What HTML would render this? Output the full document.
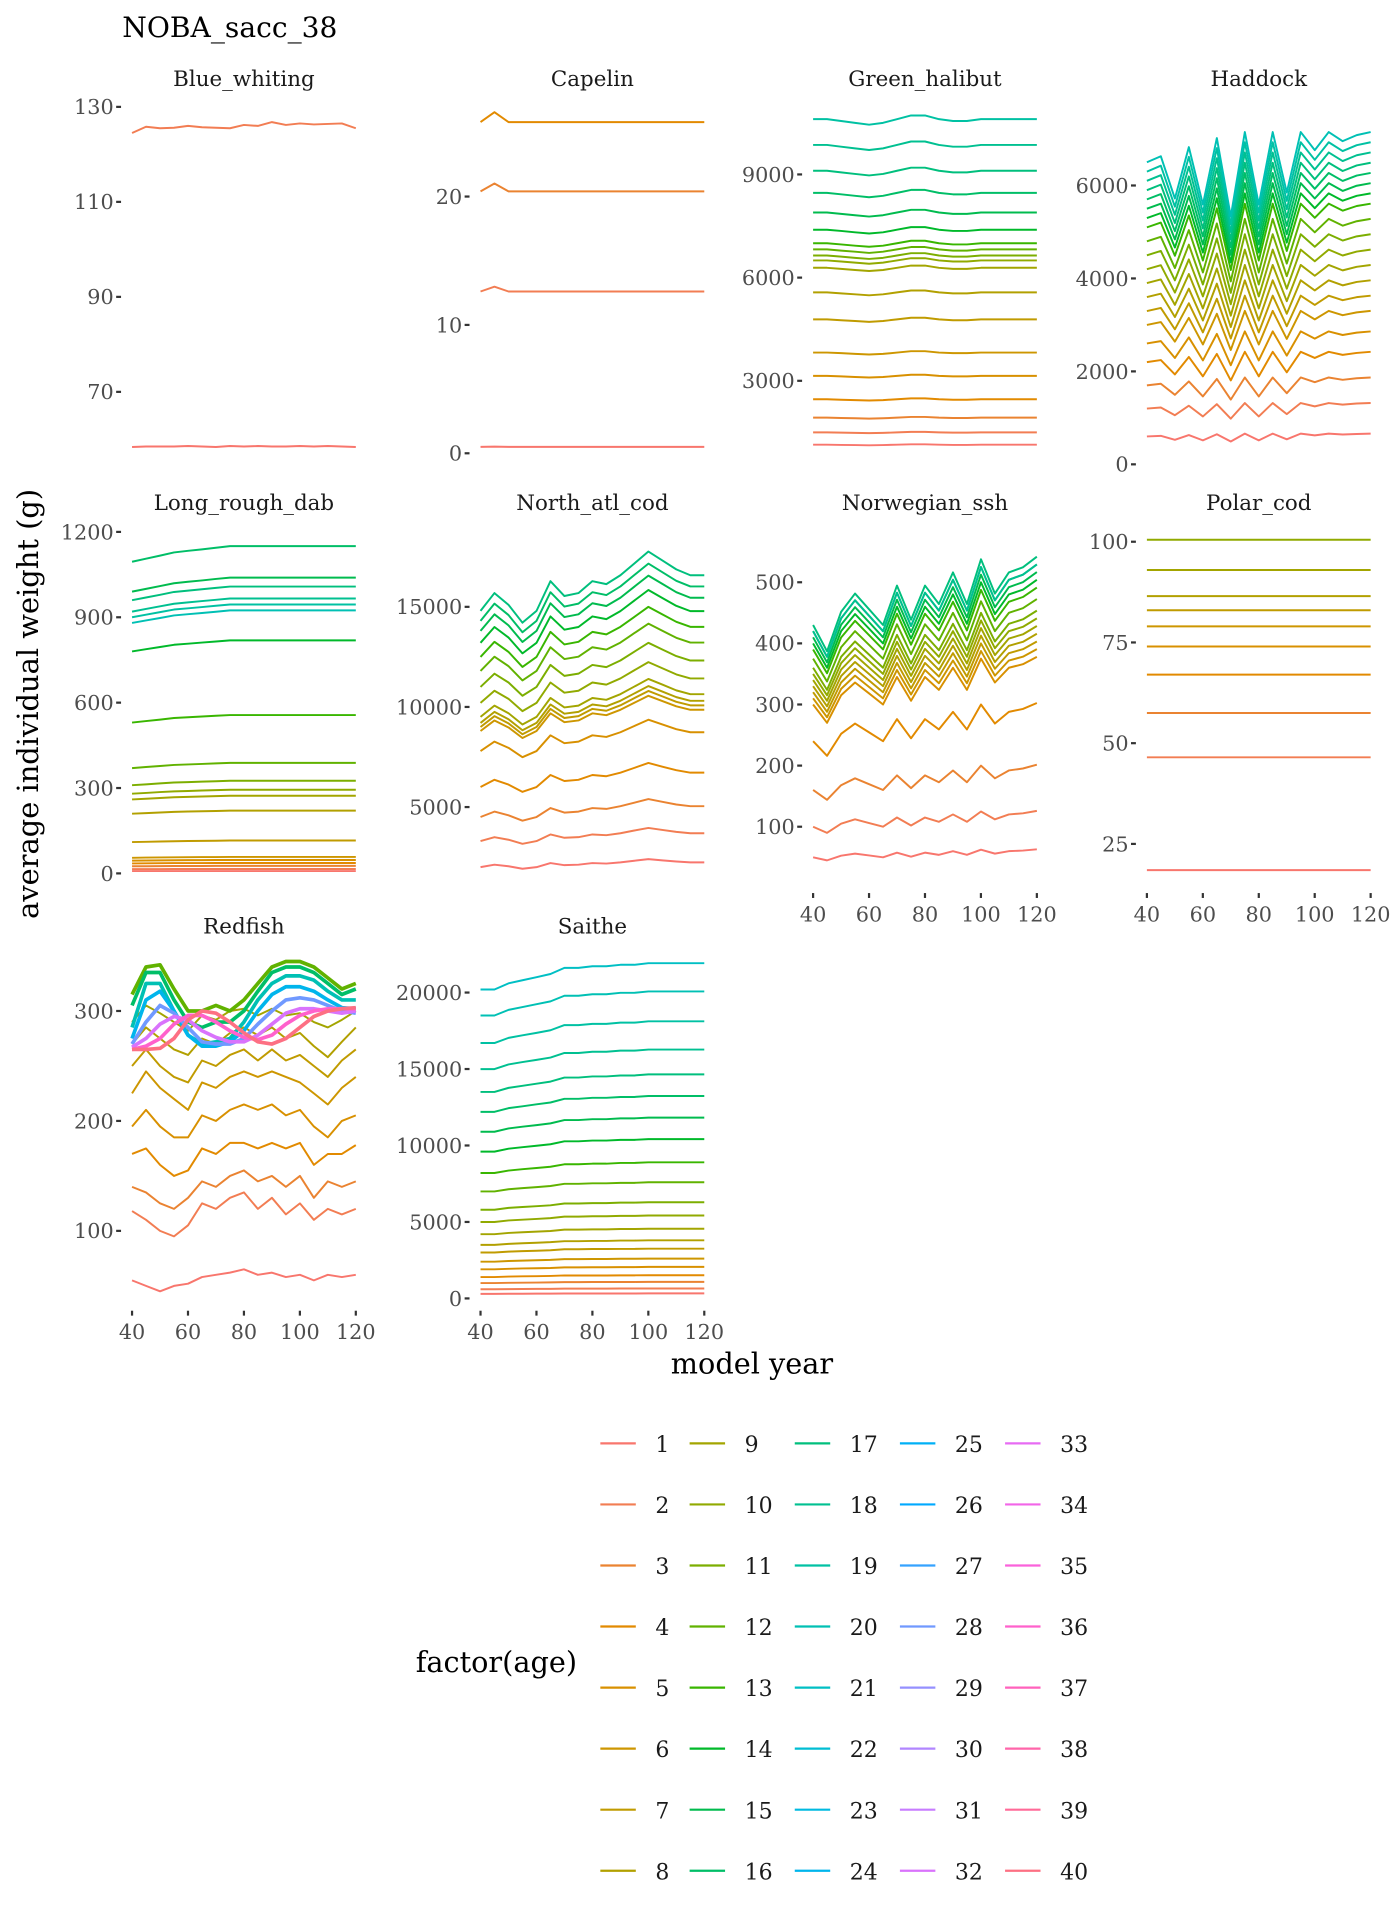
<!DOCTYPE html>
<html><head><meta charset="utf-8"><style>
html,body{margin:0;padding:0;background:#fff;}
svg{display:block;font-family:"DejaVu Serif","Liberation Serif",serif;}
</style></head><body>
<svg id="chart" width="1400" height="1920" viewBox="0 0 1145 1563" preserveAspectRatio="none" xmlns="http://www.w3.org/2000/svg">
<text x="100" y="30" font-size="23" fill="#000">NOBA_sacc_38</text>
<text transform="translate(31,573) rotate(-90)" text-anchor="middle" font-size="23.5" fill="#000">average individual weight (g)</text>
<text x="615" y="1118" text-anchor="middle" font-size="23.5" fill="#000">model year</text>
<text x="340" y="1361" font-size="23.5" fill="#000">factor(age)</text>
<g id="panels"></g>
<g id="legend"></g>
</svg>
<script>
const years=[40,45,50,55,60,65,70,75,80,85,90,95,100,105,110,115,120];
const xTicks=[40,60,80,100,120];

const bwAges=[1,2];
const bwSeries=[
[58.4,58.5,58.5,58.5,58.6,58.5,58.4,58.6,58.5,58.6,58.5,58.5,58.6,58.5,58.6,58.5,58.4],
[124.5,125.8,125.5,125.6,126,125.7,125.6,125.5,126.2,126,126.8,126.2,126.5,126.3,126.4,126.5,125.5]];
const bwTicks=[70,90,110,130];

const capAges=[1,2,3,4];
const capBase=[0.5,12.6,20.4,25.8];
const capProfile=[1,1.03,1,1,1,1,1,1,1,1,1,1,1,1,1,1,1];
const capTicks=[0,10,20];

const ghAges=[1,2,3,4,5,6,7,8,9,10,11,12,13,14,15,16,17,18,19];
const ghBase=[1143,1500,1929,2464,3143,3821,4786,5571,6286,6500,6643,6821,7000,7393,7893,8464,9107,9857,10607];
const ghProfile=[1,1,0.995,0.99,0.985,0.99,1.0,1.01,1.01,1.0,0.995,0.995,1.0,1.0,1.0,1.0,1.0];
const ghTicks=[3000,6000,9000];

const hadAges=[1,2,3,4,5,6,7,8,9,10,11,12,13,14,15,16,17,18,19,20];
const hadBase=[600,1200,1700,2200,2600,3000,3300,3600,3900,4200,4500,4800,5100,5300,5500,5700,5900,6100,6300,6500];
const hadProfile=[1,1.02,0.88,1.05,0.86,1.08,0.82,1.1,0.86,1.1,0.9,1.1,1.04,1.1,1.07,1.09,1.1];
const hadTicks=[0,2000,4000,6000];

const lrdAges=[1,2,3,4,5,6,7,8,9,10,11,12,13,14,15,16,17,18,19,20];
const lrdBase=[8,15,25,35,45,55,110,210,260,280,310,370,530,780,990,1095,960,920,900,880];
const lrdProfile=[1,1.01,1.02,1.03,1.035,1.04,1.045,1.05,1.05,1.05,1.05,1.05,1.05,1.05,1.05,1.05,1.05];
const lrdTicks=[0,300,600,900,1200];

const codAges=[1,2,3,4,5,6,7,8,9,10,11,12,13,14,15,16,17];
const codBase=[2000,3300,4500,6000,7800,8800,9000,9200,9500,10200,11000,11800,12500,13200,13800,14300,14800];
const codProfile=[1,1.06,1.02,0.96,1.0,1.1,1.05,1.06,1.1,1.09,1.12,1.16,1.2,1.17,1.14,1.12,1.12];
const codTicks=[5000,10000,15000];

const sshAges=[1,2,3,4,5,6,7,8,9,10,11,12,13,14,15,16,17,18];
const sshBase=[50,100,160,240,300,310,320,330,340,350,360,375,390,400,410,420,430,420];
const sshProfile=[1,0.9,1.05,1.12,1.06,1.0,1.15,1.02,1.15,1.08,1.2,1.08,1.25,1.12,1.2,1.22,1.26];
const sshTicks=[100,200,300,400,500];

const pcAges=[1,2,3,4,5,6,7,8,9,10];
const pcBase=[18.5,46.5,57.5,67,74,79,83,86.5,93,100.5];
const pcProfile=[1,1,1,1,1,1,1,1,1,1,1,1,1,1,1,1,1];
const pcTicks=[25,50,75,100];

const rfAges=[1,2,3,4,5,6,7,8,9,12,16,20,24,28,32,36,40];
const rfSeries=[
[55,50,45,50,52,58,60,62,65,60,62,58,60,55,60,58,60],
[118,110,100,95,105,125,120,130,135,120,130,115,125,110,120,115,120],
[140,135,125,120,130,145,140,150,155,145,150,140,150,130,145,140,145],
[170,175,160,150,155,175,170,180,180,175,180,175,180,160,170,170,178],
[195,210,195,185,185,205,200,210,215,210,215,205,210,195,185,200,205],
[225,245,230,220,210,235,230,240,245,240,245,240,235,225,215,230,240],
[250,265,250,240,235,255,250,260,265,255,265,255,260,250,240,255,265],
[270,285,275,265,260,275,270,280,285,278,285,275,280,268,258,272,285],
[290,305,298,290,282,296,292,300,302,296,302,296,298,290,285,292,300],
[315,340,342,320,300,300,305,300,310,325,340,345,345,340,330,320,325],
[305,335,335,310,290,285,290,290,300,318,335,340,340,335,325,315,320],
[285,325,325,300,278,270,272,275,290,310,325,332,332,328,318,310,310],
[275,310,318,300,278,268,268,272,282,300,315,322,322,318,310,303,302],
[270,290,305,298,285,272,270,270,275,288,300,310,312,310,305,300,298],
[267,275,288,295,292,282,276,272,272,278,288,298,302,302,300,298,300],
[265,268,275,288,296,296,290,282,276,274,278,288,296,300,302,302,302],
[265,265,266,275,292,300,298,290,280,272,270,275,285,295,300,302,303]];
const rfTicks=[100,200,300];

const saiAges=[1,2,3,4,5,6,7,8,9,10,11,12,13,14,15,16,17,18,19,20,21];
const saiBase=[300,600,1000,1400,1900,2400,3000,3500,4200,5000,5800,7000,8200,9600,10900,12200,13500,15000,16700,18500,20200];
const saiProfile=[1,1.0,1.02,1.03,1.04,1.05,1.07,1.07,1.075,1.075,1.08,1.08,1.085,1.085,1.085,1.085,1.085];
const saiTicks=[0,5000,10000,15000,20000];

const legendAges=Array.from({length:40},(_,i)=>i+1);

function hcl(h,c,l){
  const hr=h*Math.PI/180,U=c*Math.cos(hr),V=c*Math.sin(hr);
  const Xn=95.047,Yn=100,Zn=108.883,den=Xn+15*Yn+3*Zn,un=4*Xn/den,vn=9*Yn/den;
  const Y=l>8?Yn*Math.pow((l+16)/116,3):Yn*l/903.3;
  const u=U/(13*l)+un,v=V/(13*l)+vn;
  const X=9*Y*u/(4*v),Z=-X/3-5*Y+3*Y/v;
  const x=X/100,y=Y/100,z=Z/100;
  let r=3.2404542*x-1.5371385*y-0.4985314*z,g=-0.969266*x+1.8760108*y+0.041556*z,b=0.0556434*x-0.2040259*y+1.0572252*z;
  const gm=t=>{t=t<=0.0031308?12.92*t:1.055*Math.pow(t,1/2.4)-0.055;return Math.round(Math.max(0,Math.min(1,t))*255);};
  return `rgb(${gm(r)},${gm(g)},${gm(b)})`;
}
function ageColor(a){return hcl(15+(a-1)*360/40,100,65);}

const NS="http://www.w3.org/2000/svg";
function mk(tag,attrs,parent){const e=document.createElementNS(NS,tag);for(const k in attrs)e.setAttribute(k,attrs[k]);parent.appendChild(e);return e;}
const panelsG=document.getElementById('panels');

function fromProfile(base,prof){return base.map(b=>prof.map(p=>b*p));}

const panels=[
 {name:'Blue_whiting',x0:108,tv:[130,70],ty:[87,319],ticks:bwTicks,ages:bwAges,series:bwSeries,strip:64,xaxis:false,bottom:378},
 {name:'Capelin',x0:393,tv:[20,0],ty:[160,369],ticks:capTicks,ages:capAges,series:fromProfile(capBase,capProfile),strip:64,xaxis:false,bottom:378},
 {name:'Green_halibut',x0:665,tv:[9000,3000],ty:[142,310],ticks:ghTicks,ages:ghAges,series:fromProfile(ghBase,ghProfile),strip:64,xaxis:false,bottom:378},
 {name:'Haddock',x0:938,tv:[6000,0],ty:[151,378],ticks:hadTicks,ages:hadAges,series:fromProfile(hadBase,hadProfile),strip:64,xaxis:false,bottom:378},
 {name:'Long_rough_dab',x0:108,tv:[1200,0],ty:[433,711],ticks:lrdTicks,ages:lrdAges,series:fromProfile(lrdBase,lrdProfile),strip:409,xaxis:false,bottom:722},
 {name:'North_atl_cod',x0:393,tv:[15000,5000],ty:[494,657],ticks:codTicks,ages:codAges,series:fromProfile(codBase,codProfile),strip:409,xaxis:false,bottom:722},
 {name:'Norwegian_ssh',x0:665,tv:[500,100],ty:[474,673],ticks:sshTicks,ages:sshAges,series:fromProfile(sshBase,sshProfile),strip:409,xaxis:true,bottom:727},
 {name:'Polar_cod',x0:938,tv:[100,25],ty:[441,687],ticks:pcTicks,ages:pcAges,series:fromProfile(pcBase,pcProfile),strip:409,xaxis:true,bottom:727},
 {name:'Redfish',x0:108,tv:[300,100],ty:[823,1002],ticks:rfTicks,ages:rfAges,series:rfSeries,strip:754,xaxis:true,bottom:1067},
 {name:'Saithe',x0:393,tv:[20000,0],ty:[808,1057],ticks:saiTicks,ages:saiAges,series:fromProfile(saiBase,saiProfile),strip:754,xaxis:true,bottom:1067}
];
const W=183;
panels.forEach(p=>{
  const g=mk('g',{},panelsG);
  
  
  const xs=v=>p.x0+(v-40)*W/80;
  const ys=v=>p.ty[0]+(v-p.tv[0])*(p.ty[1]-p.ty[0])/(p.tv[1]-p.tv[0]);
  const st=mk('text',{x:p.x0+W/2,y:p.strip+6,'text-anchor':'middle','font-size':17.5,fill:'#1a1a1a'},g);
  
  
  st.textContent=p.name;
  const left=p.x0-9;
  p.ticks.forEach(t=>{
    const y=ys(t);
    const tk=mk('line',{x1:left-4,x2:left,y1:y,y2:y,stroke:'#333','stroke-width':1.8},g);
    
    
    const tl=mk('text',{x:left-6,y:y+6,'text-anchor':'end','font-size':17,fill:'#4d4d4d'},g);
    
    
    tl.textContent=t;
  });
  if(p.xaxis){
    xTicks.forEach(t=>{
      const x=xs(t);
      const tk=mk('line',{x1:x,x2:x,y1:p.bottom,y2:p.bottom+4,stroke:'#333','stroke-width':1.8},g);
      
      
      const tl=mk('text',{x:x,y:p.bottom+23,'text-anchor':'middle','font-size':17,fill:'#4d4d4d'},g);
      
      
      tl.textContent=t;
    });
  }
  p.series.forEach((s,i)=>{
    const d=s.map((v,j)=>(j?'L':'M')+xs(years[j]).toFixed(1)+','+ys(v).toFixed(1)).join('');
    const ln=mk('path',{d:d,fill:'none',stroke:ageColor(p.ages[i]),'stroke-width':p.name==='Redfish'&&p.ages[i]>9?3:1.6,'stroke-linejoin':'round'},g);
    
    
  });
});

const lg=document.getElementById('legend');
const keyX=[491,564,650,736,822];
legendAges.forEach((a,i)=>{
  const c=Math.floor(i/8),r=i%8,y=1175+r*49.7;
  const k=mk('line',{x1:keyX[c],x2:keyX[c]+29,y1:y,y2:y,stroke:ageColor(a),'stroke-width':1.8},lg);
  
  
  const t=mk('text',{x:keyX[c]+45,y:y+7,'font-size':18,fill:'#1a1a1a'},lg);
  
  
  t.textContent=a;
});
</script>
</body></html>
